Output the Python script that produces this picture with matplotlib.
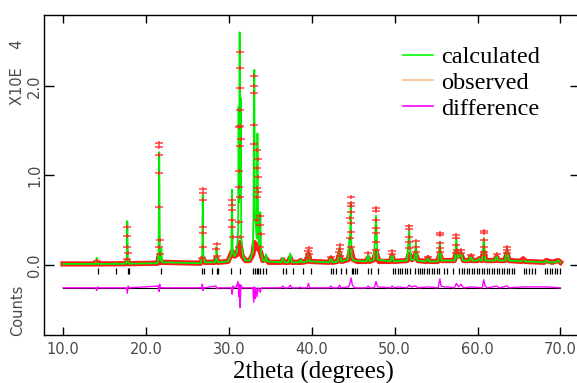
"""plot.py
Rietveld refinement plot: calculated, observed and difference patterns
with reflection markers, intensities in units of 10^4 counts.
"""

from matplotlib import pyplot as plt
from matplotlib.lines import Line2D
from matplotlib.path import Path

# calculated profile (2theta, counts / 1e4)
calc_tt = [10.0, 13.95, 14.05, 14.15, 16.25, 16.35, 16.45,
           17.6, 17.68, 17.75, 17.82, 17.9,
           21.4, 21.52, 21.6, 21.68, 21.75, 21.85, 21.95,
           26.6, 26.78, 26.85, 26.92, 27.1,
           28.3, 28.45, 28.52, 28.58, 28.7,
           29.9, 30.3, 30.38, 30.46, 30.7,
           31.0, 31.12, 31.18, 31.24, 31.3, 31.36, 31.42, 31.5, 31.7, 32.0,
           32.5, 32.9, 32.98, 33.03, 33.08, 33.14, 33.35, 33.45, 33.55,
           33.72, 33.8, 33.88, 34.1, 34.4, 34.5, 34.6,
           36.3, 36.5, 36.7, 37.2, 37.4, 37.6, 38.5, 38.65, 38.8,
           39.45, 39.6, 39.75, 42.1, 42.3, 42.5, 43.15, 43.35, 43.55,
           44.35, 44.55, 44.62, 44.7, 44.8, 45.0,
           46.6, 46.8, 47.0, 47.5, 47.75, 47.95, 49.5, 49.7, 49.9,
           51.5, 51.75, 51.95, 52.4, 52.55, 52.75, 53.8, 54.0, 54.2,
           55.25, 55.45, 55.65, 57.25, 57.45, 57.6, 57.85, 58.0, 58.2,
           59.0, 59.2, 59.4, 60.0, 60.2, 60.4, 60.55, 60.75, 60.95,
           62.1, 62.3, 62.5, 63.35, 63.55, 63.75, 65.3, 65.5, 65.7,
           68.1, 68.3, 68.5, 69.5, 69.7, 70.0]
calc_counts = [0.012, 0.012, 0.08, 0.012, 0.012, 0.025, 0.012,
               0.015, 0.06, 0.49, 0.06, 0.015,
               0.02, 0.12, 1.26, 0.12, 0.05, 0.18, 0.03,
               0.02, 0.1, 0.78, 0.1, 0.03,
               0.03, 0.06, 0.2, 0.06, 0.03,
               0.04, 0.12, 0.84, 0.15, 0.1,
               0.15, 0.4, 1.77, 0.7, 2.60, 0.9, 1.87, 0.3, 0.1, 0.05,
               0.05, 0.15, 0.6, 2.1, 2.18, 0.6, 0.3, 1.47, 0.3,
               0.2, 0.59, 0.15, 0.05, 0.05, 0.12, 0.04,
               0.03, 0.08, 0.03, 0.03, 0.13, 0.03, 0.03, 0.06, 0.03,
               0.04, 0.14, 0.04, 0.03, 0.08, 0.03, 0.04, 0.2, 0.04,
               0.06, 0.3, 0.25, 0.69, 0.1, 0.05,
               0.04, 0.12, 0.04, 0.06, 0.55, 0.06, 0.04, 0.13, 0.04,
               0.05, 0.4, 0.06, 0.06, 0.25, 0.05, 0.04, 0.09, 0.04,
               0.04, 0.26, 0.05, 0.05, 0.3, 0.08, 0.1, 0.16, 0.05,
               0.05, 0.1, 0.05, 0.05, 0.07, 0.05, 0.05, 0.3, 0.05,
               0.05, 0.1, 0.05, 0.05, 0.2, 0.05, 0.04, 0.07, 0.04,
               0.03, 0.05, 0.03, 0.03, 0.05, 0.03]

# observed background band
band_tt = [10.0, 13.9, 14.05, 14.2, 17.6, 17.75, 17.9, 21.4, 21.6, 21.75,
           26.6, 26.85, 27.1, 28.3, 28.5, 28.7, 29.9, 30.4, 30.7, 31.0,
           31.3, 31.6, 32.0, 32.5, 32.9, 33.1, 33.4, 33.8, 34.1, 34.5,
           34.8, 36.3, 36.5, 36.7, 37.2, 37.4, 37.6, 38.5, 38.65, 38.8,
           39.4, 39.6, 39.8, 42.1, 42.3, 42.5, 43.1, 43.35, 43.6, 44.4,
           44.7, 45.0, 45.5, 46.6, 46.8, 47.0, 47.5, 47.75, 48.1, 49.5,
           49.7, 49.9, 51.5, 51.75, 52.1, 52.55, 52.8, 53.8, 54.0, 54.2,
           55.2, 55.45, 55.7, 57.2, 57.45, 57.7, 58.0, 58.3, 59.0, 59.2,
           59.4, 60.0, 60.2, 60.5, 60.75, 61.0, 62.1, 62.3, 62.5, 63.3,
           63.55, 63.8, 65.3, 65.5, 65.7, 68.0, 68.3, 69.0, 69.7, 70.0]
band_counts = [0.012, 0.012, 0.03, 0.012, 0.015, 0.05, 0.015, 0.02, 0.1, 0.03,
               0.02, 0.08, 0.03, 0.03, 0.08, 0.03, 0.04, 0.15, 0.1, 0.12,
               0.25, 0.1, 0.05, 0.05, 0.12, 0.25, 0.2, 0.15, 0.05, 0.07,
               0.03, 0.03, 0.06, 0.03, 0.03, 0.08, 0.03, 0.03, 0.05, 0.03,
               0.04, 0.12, 0.04, 0.03, 0.07, 0.03, 0.04, 0.12, 0.04, 0.06,
               0.18, 0.06, 0.04, 0.04, 0.08, 0.04, 0.06, 0.15, 0.04, 0.04,
               0.1, 0.04, 0.05, 0.12, 0.06, 0.12, 0.05, 0.04, 0.08, 0.04,
               0.04, 0.12, 0.05, 0.05, 0.15, 0.1, 0.12, 0.05, 0.05, 0.09,
               0.05, 0.05, 0.07, 0.05, 0.15, 0.05, 0.05, 0.09, 0.05, 0.05,
               0.13, 0.05, 0.04, 0.07, 0.04, 0.03, 0.05, 0.03, 0.05, 0.03]

# observed points on the peaks
obs_tt = [14.05, 17.74, 17.76, 17.73, 17.78, 17.7,
          21.6, 21.61, 21.59, 21.62, 21.58, 21.64, 21.55, 21.67,
          26.85, 26.86, 26.84, 26.87, 26.83, 26.89, 26.81,
          28.52, 28.5, 28.55,
          30.38, 30.4, 30.36, 30.42, 30.34, 30.44,
          31.3, 31.31, 31.29, 31.32, 31.28, 31.33, 31.27, 31.42, 31.2,
          31.22, 31.36, 31.25, 31.38, 31.34,
          33.06, 33.07, 33.05, 33.08, 33.04, 33.44, 33.46, 33.43,
          33.47, 33.42, 33.48, 33.41, 33.45, 33.8, 33.78, 33.82, 33.76,
          39.62, 39.6, 39.64, 39.58, 42.3,
          43.35, 43.37, 43.33, 43.4,
          44.7, 44.71, 44.69, 44.72, 44.56, 44.68, 44.74, 44.66, 44.76,
          46.8, 47.75, 47.76, 47.74, 47.77, 47.73, 47.79, 47.71,
          49.7, 49.72, 51.75, 51.76, 51.74, 51.77, 51.73,
          52.55, 52.57, 52.53, 54.0,
          55.45, 55.46, 55.44, 55.47, 55.43,
          57.45, 57.46, 57.44, 57.47, 57.43, 58.0, 58.02, 59.2,
          60.75, 60.76, 60.74, 60.77, 60.73, 60.78,
          62.3, 63.55, 63.56, 63.54, 65.5]
obs_counts = [0.05, 0.42, 0.32, 0.2, 0.13, 0.07,
              1.36, 1.32, 1.23, 1.03, 0.65, 0.28, 0.2, 0.12,
              0.85, 0.8, 0.73, 0.42, 0.36, 0.2, 0.08,
              0.23, 0.18, 0.1,
              0.73, 0.67, 0.61, 0.5, 0.42, 0.31,
              2.38, 2.2, 1.98, 1.73, 1.54, 1.33, 0.87, 1.41, 1.05,
              0.48, 0.31, 0.2, 0.76, 1.55,
              2.11, 2.0, 1.92, 1.56, 1.35, 1.28, 1.18, 1.08,
              0.98, 0.86, 0.81, 0.76, 0.5, 0.55, 0.45, 0.35, 0.2,
              0.19, 0.16, 0.12, 0.08, 0.09,
              0.22, 0.18, 0.14, 0.1,
              0.76, 0.69, 0.66, 0.59, 0.52, 0.47, 0.37, 0.3, 0.2,
              0.13, 0.64, 0.6, 0.5, 0.41, 0.36, 0.26, 0.17,
              0.16, 0.12, 0.44, 0.4, 0.31, 0.26, 0.19,
              0.27, 0.2, 0.14, 0.09,
              0.36, 0.34, 0.25, 0.19, 0.15,
              0.33, 0.3, 0.22, 0.17, 0.13, 0.17, 0.13, 0.11,
              0.38, 0.36, 0.28, 0.2, 0.15, 0.11,
              0.12, 0.2, 0.17, 0.13, 0.07]

# difference (obs - calc), plotted below the pattern
diff_tt = [10.0, 13.95, 14.05, 14.15, 14.3, 17.65, 17.75, 17.85, 18.0,
           21.5, 21.58, 21.65, 21.75, 26.75, 26.8, 26.88, 27.0,
           28.45, 28.55, 28.65, 30.3, 30.4, 30.48, 30.6,
           30.9, 31.1, 31.2, 31.28, 31.36, 31.45, 31.6,
           32.9, 33.0, 33.08, 33.15, 33.25, 33.4, 33.5, 33.8, 33.9,
           36.3, 36.5, 36.7, 37.2, 37.4, 37.6, 38.5, 38.6, 38.75,
           39.45, 39.6, 39.75, 42.1, 42.3, 42.5, 43.2, 43.35, 43.5,
           44.45, 44.6, 44.75, 44.9, 45.2, 46.6, 46.8, 47.0,
           47.55, 47.75, 47.95, 49.5, 49.7, 49.9, 50.5, 51.5, 51.75,
           52.0, 52.55, 52.8, 54.0, 55.25, 55.45, 55.6, 56.0, 56.5,
           57.2, 57.45, 57.7, 58.0, 58.3, 59.2, 60.55, 60.75, 60.9,
           61.2, 62.3, 62.6, 63.55, 63.8, 65.5, 68.3, 70.0]
diff_counts = [0.0, 0.0, -0.03, 0.01, 0.0, 0.0, -0.06, 0.02, 0.0,
               0.02, -0.04, 0.04, 0.0, 0.0, 0.04, -0.03, 0.0,
               0.02, -0.01, 0.0, 0.0, -0.07, 0.02, 0.0,
               0.01, 0.07, -0.1, 0.04, -0.22, 0.03, 0.0,
               0.0, -0.16, 0.01, -0.12, 0.0, -0.1, 0.0, -0.05, 0.0,
               0.0, 0.02, 0.0, 0.0, 0.03, 0.0, 0.0, 0.01, 0.0,
               0.0, 0.05, 0.0, 0.0, 0.02, 0.0, 0.0, 0.03, 0.0,
               0.01, 0.05, 0.11, 0.03, 0.0, 0.0, 0.02, 0.0,
               0.0, 0.07, 0.01, 0.0, 0.02, 0.0, 0.01, 0.0, 0.03,
               0.01, 0.02, 0.0, 0.01, 0.0, 0.1, 0.02, 0.01, 0.01,
               0.0, 0.05, 0.01, 0.04, 0.0, 0.01, 0.0, 0.09, 0.02,
               0.0, 0.02, 0.0, 0.02, 0.0, 0.01, 0.01, 0.0]

# reflection positions
hkl_tt = [14.2, 16.4, 17.8, 17.9, 21.8, 26.8, 26.95,
          28.0, 28.6, 28.7, 30.2, 31.4, 32.9, 33.1, 33.4, 33.5, 33.8,
          34.1, 34.5, 36.5, 36.9, 37.7, 38.9, 39.9,
          42.3, 42.55, 42.9, 43.5, 44.1, 44.8, 45.0, 45.2, 45.4,
          46.75, 47.15, 48.0,
          49.8, 50.1, 50.35, 50.6, 50.9, 51.2, 51.5, 51.8,
          52.5, 52.8, 53.05, 53.3, 53.6, 53.9, 54.2, 54.5, 54.8, 55.1, 55.3,
          56.0, 56.3, 57.0, 57.8, 58.1, 58.4, 58.7, 59.0, 59.3, 59.6,
          59.9, 60.2, 60.5, 60.8, 61.1, 61.4, 61.7, 62.0, 62.3, 62.6,
          62.9, 63.2, 63.5, 63.8, 64.1, 64.4,
          65.6, 65.9, 66.2, 66.6, 66.9,
          68.1, 68.4, 68.7, 69.0, 69.3, 69.6, 69.9]

xticks = [10.0, 20.0, 30.0, 40.0, 50.0, 60.0, 70.0]
yticks = [0.0, 1.0, 2.0]

DIFF_OFFSET = -0.255
SERIF = ['Liberation Serif', 'DejaVu Serif']
GRAY = '#4a4a4a'

# flat cross: wide horizontal bar, short vertical bar
cross = Path([(-1, 0), (1, 0), (0, -0.55), (0, 0.55)],
             [Path.MOVETO, Path.LINETO, Path.MOVETO, Path.LINETO])

fig = plt.figure(figsize=(5.77, 3.83), dpi=100)
ax = fig.add_axes([43.5 / 577, 48 / 383, 536 / 577, 320 / 383])

# observed: dense band along the background plus crosses on the peaks
ax.plot(band_tt, band_counts, color='#ff1a1a', lw=3.8, solid_joinstyle='round',
        zorder=2)
ax.plot(obs_tt, obs_counts, ls='none', marker=cross, ms=6, mew=1.1,
        mfc='none', color='#ff2020', alpha=0.85, zorder=4)
ax.plot(calc_tt, calc_counts, color='#00ee00', lw=1.3, zorder=3)

# reflection markers
ax.vlines(hkl_tt, -0.095, -0.035, color='black', lw=0.9, zorder=3)

# difference curve on its own zero line
ax.plot([10.0, 70.0], [DIFF_OFFSET, DIFF_OFFSET], color='black', lw=0.8,
        zorder=2)
ax.plot(diff_tt, [d + DIFF_OFFSET for d in diff_counts], color='#ff00ff',
        lw=1.0, zorder=3)

ax.set_xlim(7.64, 72.3)
ax.set_ylim(-0.782, 2.793)
ax.set_xticks(xticks)
ax.set_xticklabels(['%.1f' % t for t in xticks], color=GRAY, fontsize=10.5)
ax.set_yticks(yticks)
ax.set_yticklabels(['%.1f' % t for t in yticks], color=GRAY, fontsize=10.5,
                   rotation=90, va='center')
ax.tick_params(axis='x', direction='in', length=6, width=1, top=True,
               pad=5)
ax.tick_params(axis='y', direction='in', length=7, width=1, right=True,
               pad=1)
for side in ax.spines.values():
    side.set_linewidth(1.0)

fig.text(18 / 577, 1 - 72 / 383, 'X10E    4', rotation=90, ha='center',
         va='center', color=GRAY, fontsize=10.5)
fig.text(18 / 577, 1 - 310 / 383, 'Counts', rotation=90, ha='center',
         va='center', color=GRAY, fontsize=10.5)
fig.text(313 / 577, 1 - 372 / 383, '2theta (degrees)', ha='center',
         va='center', family=SERIF, fontsize=18)

handles = [Line2D([], [], color='#00ff00', lw=1.2),
           Line2D([], [], color='#f9bd8a', lw=1.2),
           Line2D([], [], color='#ff00ff', lw=1.2)]
ax.legend(handles, ['calculated', 'observed', 'difference'],
          loc='upper left', bbox_to_anchor=(403 / 577, 1 - 46 / 383),
          bbox_transform=fig.transFigure, frameon=False,
          prop={'family': SERIF, 'size': 17.5}, handlelength=1.25,
          handletextpad=0.3, labelspacing=0.16, borderpad=0,
          borderaxespad=0)

fig.savefig('out.png', dpi=100)
